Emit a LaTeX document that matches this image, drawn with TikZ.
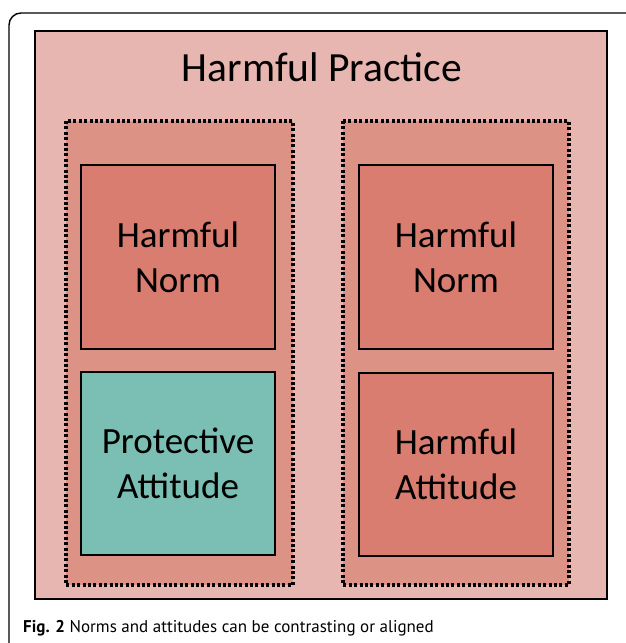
\documentclass[tikz,border=0pt]{standalone}
\usepackage{fontspec}
\setmainfont{Carlito}
\newfontfamily\capfont{PT Sans}
\definecolor{practice}{HTML}{E8B6B0}
\definecolor{group}{HTML}{DC9284}
\definecolor{harm}{HTML}{D87D6F}
\definecolor{protect}{HTML}{7BBEB4}
\tikzset{
	dots/.style={draw=black, line width=3.2pt, dash pattern=on 3pt off 2.4pt},
	cell/.style={draw=black, line width=2.3pt, align=center, font=\fontsize{37}{45}\selectfont},
}
\begin{document}
\begin{tikzpicture}[x=1pt, y=-1pt]
	\useasboundingbox (0,0) rectangle (625,643);
	\draw[line width=1.4pt, rounded corners=12pt] (9,643) -- (9,13) -- (626,13);
	\filldraw[fill=practice, draw=black, line width=2.4pt] (35,31) rectangle (607,599);
	\node (title) at (322,67) {\fontsize{41.5}{48}\selectfont Harmful Practice};
	\filldraw[fill=group, dots] (66,121) rectangle (293,585);
	\filldraw[fill=group, dots] (343,121) rectangle (569,585);
	\filldraw[fill=harm, cell] (81,165) rectangle node(normA){Harmful\\Norm} (275,349);
	\filldraw[fill=protect, cell] (81,372) rectangle node(attA){Protective\\Attitude} (275,555);
	\filldraw[fill=harm, cell] (359,165) rectangle node(normB){Harmful\\Norm} (553,349);
	\filldraw[fill=harm, cell] (359,373) rectangle node(attB){Harmful\\Attitude} (553,556);
	\node[anchor=base west, inner sep=0pt, font=\capfont\fontsize{17}{20}\selectfont] (caption) at (23,632) {\textbf{Fig. 2} Norms and attitudes can be contrasting or aligned};
\end{tikzpicture}
\end{document}
